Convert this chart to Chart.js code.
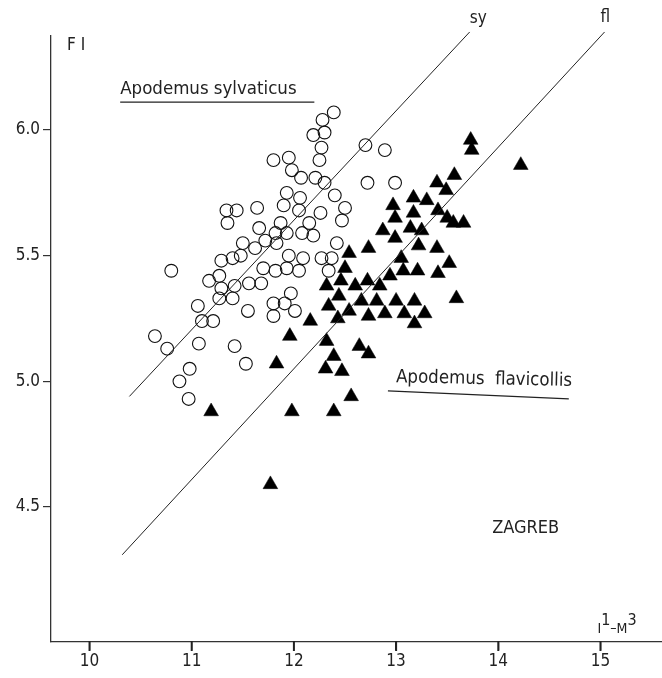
<!DOCTYPE html>
<html><head><meta charset="utf-8">
<script src="https://cdn.jsdelivr.net/npm/chart.js@4.4.0/dist/chart.umd.min.js"></script>
<style>html,body{margin:0;padding:0;background:#fff;}canvas{display:block;}</style>
</head><body>
<canvas id="c" width="662" height="678"></canvas>
<script>
// Apodemus sylvaticus (open circles): I1-M3 length and FI
const sylvaticusX = [12.39,12.28,12.30,12.19,12.27,12.25,12.70,12.89,11.95,11.80,
  11.98,12.07,12.21,12.30,12.72,12.99,11.93,12.06,12.40,12.50,
  12.47,12.26,11.90,12.05,12.15,11.64,11.34,11.44,11.35,12.08,
  12.19,11.93,11.82,11.66,11.72,11.83,11.50,11.62,12.42,11.48,
  11.40,11.29,11.95,12.09,12.27,12.37,11.70,11.82,11.93,12.05,
  12.34,10.80,11.27,11.17,11.29,11.42,11.56,11.68,11.97,11.27,
  11.40,11.06,11.55,11.80,11.91,12.01,11.80,11.10,11.21,10.64,
  10.76,11.07,11.42,11.53,10.98,10.88,10.97,11.87];
const sylvaticusY = [6.07,6.04,5.99,5.98,5.93,5.88,5.94,5.92,5.89,5.88,
  5.84,5.81,5.81,5.79,5.79,5.79,5.75,5.73,5.74,5.69,
  5.64,5.67,5.70,5.68,5.63,5.69,5.68,5.68,5.63,5.59,
  5.58,5.59,5.59,5.61,5.56,5.55,5.55,5.53,5.55,5.50,
  5.49,5.48,5.50,5.49,5.49,5.49,5.45,5.44,5.45,5.44,
  5.44,5.44,5.42,5.40,5.37,5.38,5.39,5.39,5.35,5.33,
  5.33,5.30,5.28,5.31,5.31,5.28,5.26,5.24,5.24,5.18,
  5.13,5.15,5.14,5.07,5.05,5.00,4.93,5.63];
// Apodemus flavicollis (filled triangles)
const flavicollisX = [13.73,13.74,14.22,13.57,13.40,13.49,13.17,13.30,12.97,13.17,
  13.41,13.50,13.56,13.66,12.99,12.87,13.14,13.25,12.99,13.22,
  13.40,12.73,12.54,13.05,13.52,12.50,13.07,13.21,13.41,12.94,
  12.72,12.46,12.60,12.84,12.32,12.44,12.66,12.81,13.00,13.18,
  13.59,12.34,12.54,12.73,12.89,13.08,13.28,12.16,12.43,13.18,
  11.96,12.32,12.64,12.73,12.39,12.31,12.47,11.83,12.56,11.19,
  11.98,12.39,11.77];
const flavicollisY = [5.96,5.92,5.86,5.82,5.79,5.76,5.73,5.72,5.70,5.67,
  5.68,5.65,5.63,5.63,5.65,5.60,5.61,5.60,5.57,5.54,
  5.53,5.53,5.51,5.49,5.47,5.45,5.44,5.44,5.43,5.42,
  5.40,5.40,5.38,5.38,5.38,5.34,5.32,5.32,5.32,5.32,
  5.33,5.30,5.28,5.26,5.27,5.27,5.27,5.24,5.25,5.23,
  5.18,5.16,5.14,5.11,5.10,5.05,5.04,5.07,4.94,4.88,
  4.88,4.88,4.59];
// regression lines
const syLineX = [10.39, 13.72];
const syLineY = [4.94, 6.39];
const flLineX = [10.32, 15.04];
const flLineY = [4.31, 6.39];
// axes
const xTicks = [10, 11, 12, 13, 14, 15];
const yTicks = [4.5, 5.0, 5.5, 6.0];

const FONT = '"DejaVu Sans Condensed","Liberation Sans Narrow","DejaVu Sans",sans-serif';
const toPts = (xs, ys) => xs.map((v, i) => ({x: v, y: ys[i]}));

const annot = {
  id: 'annot',
  afterDraw(chart) {
    const {ctx, scales: {x, y}} = chart;
    const px = v => x.getPixelForValue(v), py = v => y.getPixelForValue(v);
    ctx.save();
    // short outward tick marks on the x axis
    ctx.strokeStyle = '#222';
    ctx.lineWidth = 2;
    const axisY = chart.chartArea.bottom;
    xTicks.forEach(v => { const tx = px(v); ctx.beginPath(); ctx.moveTo(tx, axisY - 1); ctx.lineTo(tx, axisY + 9); ctx.stroke(); });
    ctx.fillStyle = '#222';
    ctx.textBaseline = 'middle';
    ctx.textAlign = 'left';
    const txt = (t, xv, yv, size) => { ctx.font = size + 'px ' + FONT; ctx.fillText(t, px(xv), py(yv)); };
    txt('sy', 13.72, 6.445, 17);
    txt('fl', 15.00, 6.449, 17);
    txt('F I', 9.78, 6.335, 17);
    txt('Apodemus sylvaticus', 10.30, 6.162, 18.5);
    ctx.lineWidth = 1.2;
    ctx.beginPath(); ctx.moveTo(px(10.30), py(6.111)); ctx.lineTo(px(12.20), py(6.111)); ctx.stroke();
    // flavicollis label, slightly tilted
    const fx = px(13.0), fy = py(5.016);
    ctx.save(); ctx.translate(fx, fy); ctx.rotate(0.022);
    ctx.font = '18.5px ' + FONT; ctx.fillText('Apodemus  flavicollis', 0, 0);
    ctx.restore();
    ctx.beginPath(); ctx.moveTo(px(12.92), py(4.962)); ctx.lineTo(px(14.69), py(4.930)); ctx.stroke();
    txt('ZAGREB', 13.94, 4.417, 18);
    // I1-M3 axis label
    const bx = px(14.97), by = py(3.963) - 9;
    ctx.textBaseline = 'alphabetic';
    let cx = bx;
    const part = (t, size, dy) => { ctx.font = size + 'px ' + FONT; ctx.fillText(t, cx, by + dy); cx += ctx.measureText(t).width; };
    part('I', 14, 0); part('1', 16, -8); part('–', 14, -1); part('M', 14, 0); part('3', 16, -8);
    ctx.restore();
  }
};

new Chart(document.getElementById('c'), {
  type: 'scatter',
  data: {
    datasets: [
      {label: 'sy line', type: 'line', data: toPts(syLineX, syLineY), borderColor: '#222', borderWidth: 1, pointRadius: 0, fill: false, clip: false},
      {label: 'fl line', type: 'line', data: toPts(flLineX, flLineY), borderColor: '#222', borderWidth: 1, pointRadius: 0, fill: false, clip: false},
      {label: 'Apodemus sylvaticus', data: toPts(sylvaticusX, sylvaticusY), pointStyle: 'circle', pointRadius: 6.4, borderColor: '#111', borderWidth: 1.1, backgroundColor: 'rgba(0,0,0,0)', clip: false},
      {label: 'Apodemus flavicollis', data: toPts(flavicollisX, flavicollisY), pointStyle: 'triangle', pointRadius: 8.5, borderColor: '#000', borderWidth: 0.5, backgroundColor: '#000', clip: false}
    ]
  },
  options: {
    responsive: false,
    animation: false,
    events: [],
    layout: {autoPadding: false, padding: {top: 36, right: 0, left: 0, bottom: 0}},
    plugins: {legend: {display: false}, tooltip: {enabled: false}},
    scales: {
      x: {
        type: 'linear', min: 9.623, max: 15.602,
        afterBuildTicks: s => { s.ticks = xTicks.map(v => ({value: v})); },
        afterFit: s => { s.height = 36; s.paddingLeft = 0; s.paddingRight = 0; },
        grid: {display: true, drawOnChartArea: false, drawTicks: true, tickLength: 8, color: '#222', lineWidth: 1.2},
        border: {display: true, color: '#333', width: 1.3},
        ticks: {color: '#222', font: {family: FONT, size: 17}, padding: 1, maxRotation: 0, autoSkip: false, callback: v => String(v)}
      },
      y: {
        type: 'linear', min: 3.963, max: 6.374,
        afterBuildTicks: s => { s.ticks = yTicks.map(v => ({value: v})); },
        afterFit: s => { s.width = 51; s.paddingTop = 0; s.paddingBottom = 0; },
        grid: {display: true, drawOnChartArea: false, drawTicks: true, tickLength: 8, color: '#333', lineWidth: 1.2},
        border: {display: true, color: '#333', width: 1.3},
        ticks: {color: '#222', font: {family: FONT, size: 17}, padding: 3, autoSkip: false, callback: v => Number(v).toFixed(1)}
      }
    }
  },
  plugins: [annot]
});
</script>
</body></html>
